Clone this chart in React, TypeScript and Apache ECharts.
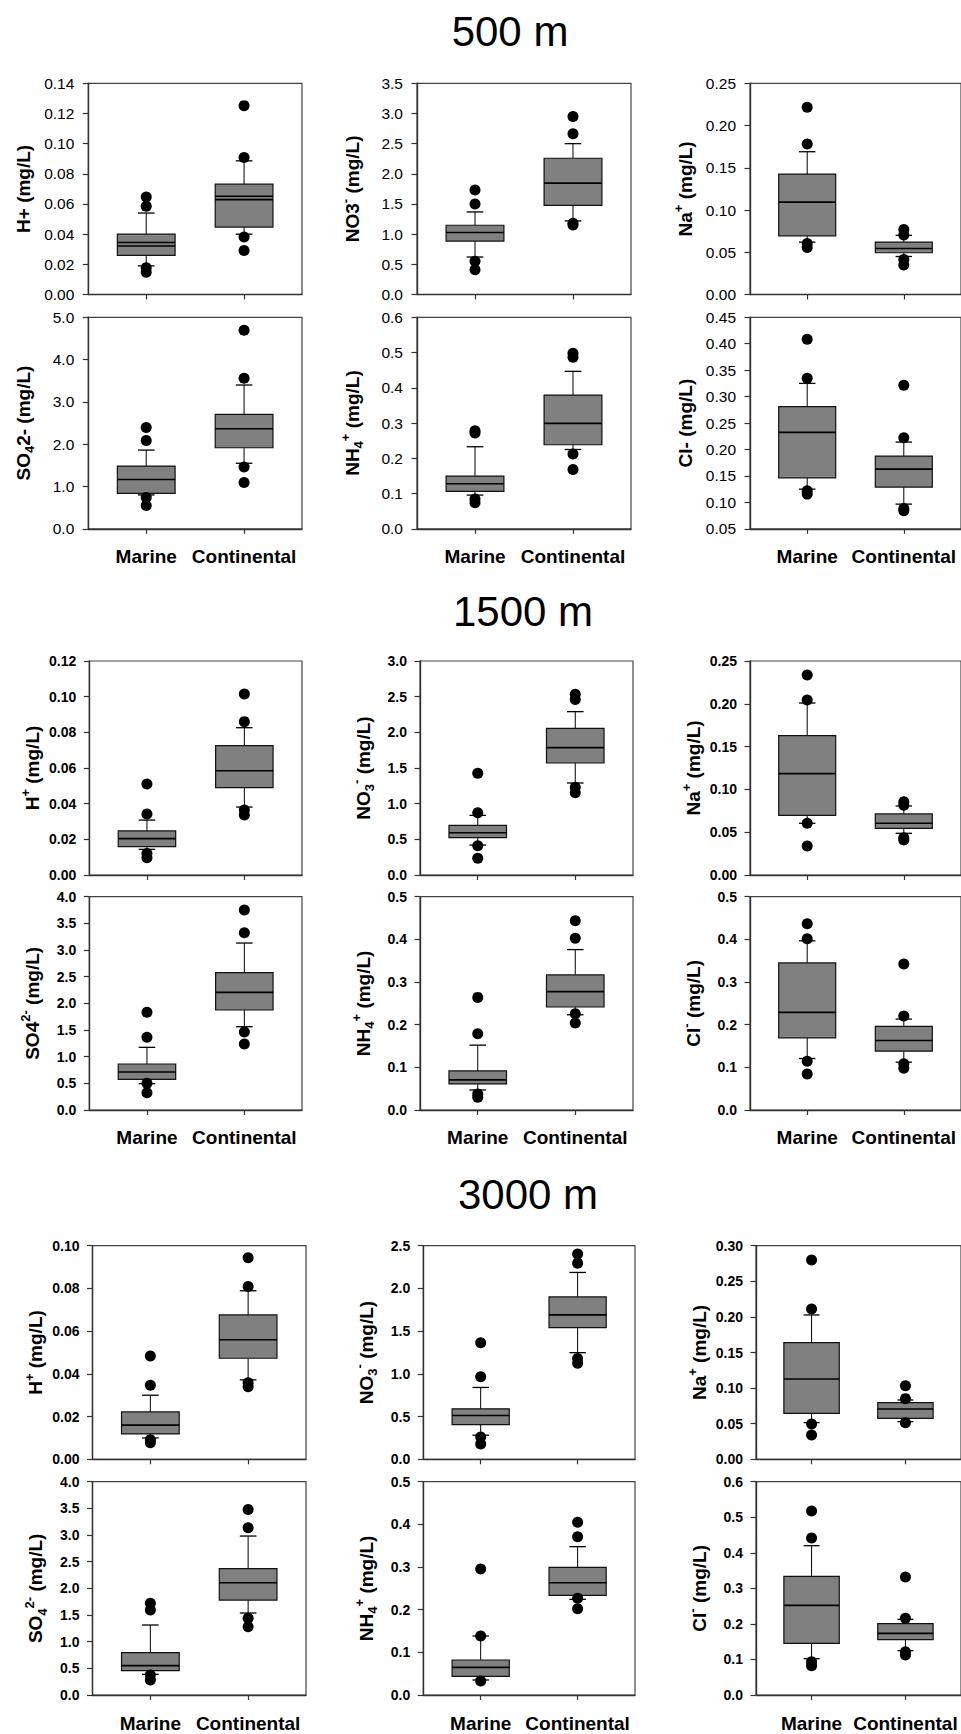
import React, { useEffect, useRef } from 'react';
import * as echarts from 'echarts';

// ---------------- data ----------------
const categories = ['Marine', 'Continental'];
const sectionTitles = ['500 m', '1500 m', '3000 m'];

// box stats per group: [lower whisker, Q1, median, Q3, upper whisker]  (Marine, Continental)
// ---- 500 m ----
const box500H = [[0.019, 0.026, 0.0321, 0.040, 0.054], [0.040, 0.0447, 0.0629, 0.0731, 0.0886]];
const mean500H = [0.0345, 0.0651];
const out500H = [[0.0647, 0.0585, 0.0177, 0.0148], [0.1252, 0.0908, 0.0381, 0.0292]];
const box500NO3 = [[0.621, 0.885, 1.027, 1.148, 1.368], [1.22, 1.478, 1.846, 2.258, 2.5]];
const out500NO3 = [[1.731, 1.5, 0.549, 0.412], [2.95, 2.665, 1.18, 1.15]];
const box500Na = [[0.062, 0.0695, 0.1094, 0.1426, 0.169], [0.045, 0.0494, 0.0545, 0.062, 0.07]];
const out500Na = [[0.2216, 0.1781, 0.0604, 0.0557], [0.077, 0.0703, 0.0415, 0.0348]];
const box500SO4 = [[0.8, 0.836, 1.167, 1.483, 1.861], [1.55, 1.916, 2.366, 2.705, 3.399]];
const out500SO4 = [[2.397, 2.09, 0.741, 0.552], [4.692, 3.557, 1.459, 1.096]];
const box500NH4 = [[0.0956, 0.106, 0.1278, 0.1495, 0.2328], [0.225, 0.2385, 0.299, 0.3795, 0.4467]];
const out500NH4 = [[0.278, 0.272, 0.0842, 0.0738], [0.4978, 0.4864, 0.212, 0.1685]];
const box500Cl = [[0.125, 0.1465, 0.2323, 0.2809, 0.325], [0.0967, 0.1289, 0.1629, 0.1875, 0.214]];
const out500Cl = [[0.4084, 0.3345, 0.122, 0.1156], [0.3213, 0.2222, 0.0885, 0.084]];

// ---- 1500 m ----
const box1500H = [[0.0144, 0.0159, 0.0204, 0.0247, 0.0308], [0.0381, 0.049, 0.0585, 0.0725, 0.0826]];
const out1500H = [[0.051, 0.0342, 0.0121, 0.0097], [0.1015, 0.086, 0.0364, 0.0336]];
const box1500NO3 = [[0.42, 0.523, 0.593, 0.696, 0.836], [1.29, 1.57, 1.785, 2.056, 2.29]];
const out1500NO3 = [[1.425, 0.874, 0.411, 0.234], [2.533, 2.46, 1.229, 1.154]];
const box1500Na = [[0.0604, 0.0697, 0.1184, 0.1628, 0.2009], [0.0487, 0.0545, 0.0604, 0.0713, 0.0806]];
const out1500Na = [[0.2336, 0.2044, 0.0604, 0.0339], [0.0857, 0.0814, 0.0436, 0.0409]];
const box1500SO4 = [[0.494, 0.575, 0.7125, 0.8625, 1.175], [1.5625, 1.875, 2.206, 2.575, 3.131]];
const out1500SO4 = [[1.831, 1.3625, 0.5, 0.325], [3.75, 3.325, 1.4625, 1.2375]];
const box1500NH4 = [[0.047, 0.0611, 0.0705, 0.0917, 0.152], [0.2233, 0.2414, 0.2774, 0.3166, 0.376]];
const out1500NH4 = [[0.264, 0.1787, 0.0376, 0.0298], [0.4436, 0.4028, 0.2257, 0.2038]];
const box1500Cl = [[0.1207, 0.1693, 0.2288, 0.3448, 0.3966], [0.1121, 0.1379, 0.163, 0.1959, 0.2132]];
const out1500Cl = [[0.4365, 0.4013, 0.1144, 0.0846], [0.3425, 0.2202, 0.1082, 0.098]];

// ---- 3000 m ----
const box3000H = [[0.01, 0.0119, 0.016, 0.0222, 0.03], [0.0372, 0.0473, 0.056, 0.0676, 0.0789]];
const out3000H = [[0.0484, 0.0347, 0.0092, 0.0077], [0.0944, 0.0809, 0.0358, 0.034]];
const box3000NO3 = [[0.282, 0.407, 0.5125, 0.591, 0.841], [1.248, 1.541, 1.69, 1.901, 2.187]];
const out3000NO3 = [[1.365, 0.966, 0.26, 0.18], [2.402, 2.296, 1.181, 1.123]];
const box3000Na = [[0.0515, 0.0646, 0.1128, 0.1638, 0.2027], [0.0529, 0.0576, 0.0707, 0.0796, 0.0833]];
const out3000Na = [[0.2799, 0.2111, 0.0496, 0.0342], [0.1034, 0.0852, 0.0515]];
const box3000SO4 = [[0.3875, 0.456, 0.55, 0.794, 1.3125], [1.5375, 1.781, 2.106, 2.369, 2.981]];
const out3000SO4 = [[1.719, 1.594, 0.375, 0.281], [3.48, 3.1375, 1.4375, 1.281]];
const box3000NH4 = [[0.0352, 0.0438, 0.0648, 0.082, 0.1383], [0.2242, 0.2336, 0.2633, 0.2992, 0.3477]];
const out3000NH4 = [[0.2953, 0.1383, 0.0328], [0.4047, 0.3711, 0.2266, 0.2023]];
const box3000Cl = [[0.1022, 0.1453, 0.2522, 0.3338, 0.42], [0.1247, 0.1556, 0.1734, 0.2006, 0.2128]];
const out3000Cl = [[0.5175, 0.4416, 0.0938, 0.0825], [0.3319, 0.2156, 0.1219, 0.1125]];

// y axis scales: [min, max, interval] and label decimals
const yRange500 = [[0, 0.14, 0.02], [0, 3.5, 0.5], [0, 0.25, 0.05], [0, 5, 1], [0, 0.6, 0.1], [0.05, 0.45, 0.05]];
const yDec500 = [2, 1, 2, 1, 1, 2];
const yRange1500 = [[0, 0.12, 0.02], [0, 3, 0.5], [0, 0.25, 0.05], [0, 4, 0.5], [0, 0.5, 0.1], [0, 0.5, 0.1]];
const yDec1500 = [2, 1, 2, 1, 1, 1];
const yRange3000 = [[0, 0.1, 0.02], [0, 2.5, 0.5], [0, 0.3, 0.05], [0, 4, 0.5], [0, 0.5, 0.1], [0, 0.6, 0.1]];
const yDec3000 = [2, 1, 2, 1, 1, 1];

// y axis titles (rich text)
const yNames500 = [
  '{t|H+ (mg/L)}',
  '{t|NO3}{sup|-}{t| (mg/L)}',
  '{t|Na}{sup|+}{t| (mg/L)}',
  '{t|SO}{sub|4}{t|2- (mg/L)}',
  '{t|NH}{sub|4}{sup|+}{t| (mg/L)}',
  '{t|Cl- (mg/L)}',
];
const yNames1500 = [
  '{t|H}{sup|+}{t| (mg/L)}',
  '{t|NO}{sub|3}{sup|-}{t| (mg/L)}',
  '{t|Na}{sup|+}{t| (mg/L)}',
  '{t|SO4}{sup|2-}{t| (mg/L)}',
  '{t|NH}{sub|4}{sup|+}{t| (mg/L)}',
  '{t|Cl}{sup|-}{t| (mg/L)}',
];
const yNames3000 = [
  '{t|H}{sup|+}{t| (mg/L)}',
  '{t|NO}{sub|3}{sup|-}{t| (mg/L)}',
  '{t|Na}{sup|+}{t| (mg/L)}',
  '{t|SO}{sub|4}{sup|2-}{t| (mg/L)}',
  '{t|NH}{sub|4}{sup|+}{t| (mg/L)}',
  '{t|Cl}{sup|-}{t| (mg/L)}',
];

const sections = [
  {
    boxes: [box500H, box500NO3, box500Na, box500SO4, box500NH4, box500Cl],
    outs: [out500H, out500NO3, out500Na, out500SO4, out500NH4, out500Cl],
    means: [mean500H, null, null, null, null, null],
    ranges: yRange500, decs: yDec500, names: yNames500,
  },
  {
    boxes: [box1500H, box1500NO3, box1500Na, box1500SO4, box1500NH4, box1500Cl],
    outs: [out1500H, out1500NO3, out1500Na, out1500SO4, out1500NH4, out1500Cl],
    means: [null, null, null, null, null, null],
    ranges: yRange1500, decs: yDec1500, names: yNames1500,
  },
  {
    boxes: [box3000H, box3000NO3, box3000Na, box3000SO4, box3000NH4, box3000Cl],
    outs: [out3000H, out3000NO3, out3000Na, out3000SO4, out3000NH4, out3000Cl],
    means: [null, null, null, null, null, null],
    ranges: yRange3000, decs: yDec3000, names: yNames3000,
  },
];

// ---------------- layout ----------------
const W = 961;
const H = 1734;
const FONT = "'Liberation Sans', Arial, Helvetica, sans-serif";
const ROWS = [
  [[83.3, 294.5], [317.3, 528.8]],
  [[661, 875], [896.7, 1110]],
  [[1245.7, 1459.3], [1481.7, 1695]],
];
const COLS = [
  [[88.3, 302], [417, 631], [750, 964]],
  [[89.3, 302], [420, 633], [750, 964]],
  [[92.5, 306], [423.3, 635], [756, 970]],
];
const TITLE_POS = [[510, 31], [523, 611], [528, 1194]];
const SEC_STYLE = [
  { tickFont: 15.5, tickWeight: 'normal', tickMargin: 14, nameGap: 52, xMargin: 18 },
  { tickFont: 14, tickWeight: 'bold', tickMargin: 13, nameGap: 44, xMargin: 18 },
  { tickFont: 14, tickWeight: 'bold', tickMargin: 13, nameGap: 44, xMargin: 19 },
];
const X_MIN = -0.592;
const X_MAX = 1.592;
const BOX_W = 0.59;
const CAP_W = 0.17;
const BOX_FILL = '#808080';
const AXIS_COLOR = '#333';

function makeRenderItem(hasMean: boolean) {
  return (params: any, api: any) => {
    const x = api.value(0);
    const lo = api.coord([x, api.value(1)]);
    const q1 = api.coord([x, api.value(2)]);
    const med = api.coord([x, api.value(3)]);
    const q3 = api.coord([x, api.value(4)]);
    const hi = api.coord([x, api.value(5)]);
    const bw = api.size([BOX_W, 0])[0];
    const cw = api.size([CAP_W, 0])[0];
    const cx = q1[0];
    const lineStyle = { stroke: '#000', lineWidth: 1 };
    const children: any[] = [
      { type: 'line', shape: { x1: cx, y1: hi[1], x2: cx, y2: q3[1] }, style: lineStyle },
      { type: 'line', shape: { x1: cx, y1: q1[1], x2: cx, y2: lo[1] }, style: lineStyle },
      { type: 'line', shape: { x1: cx - cw / 2, y1: hi[1], x2: cx + cw / 2, y2: hi[1] }, style: { stroke: '#000', lineWidth: 1.3 } },
      { type: 'line', shape: { x1: cx - cw / 2, y1: lo[1], x2: cx + cw / 2, y2: lo[1] }, style: { stroke: '#000', lineWidth: 1.3 } },
      {
        type: 'rect',
        shape: { x: cx - bw / 2, y: q3[1], width: bw, height: q1[1] - q3[1] },
        style: { fill: BOX_FILL, stroke: '#111', lineWidth: 1.2 },
      },
      { type: 'line', shape: { x1: cx - bw / 2, y1: med[1], x2: cx + bw / 2, y2: med[1] }, style: { stroke: '#000', lineWidth: 1.6 } },
    ];
    if (hasMean) {
      const mn = api.coord([x, api.value(6)]);
      children.push({ type: 'line', shape: { x1: cx - bw / 2, y1: mn[1], x2: cx + bw / 2, y2: mn[1] }, style: { stroke: '#000', lineWidth: 1.6 } });
    }
    return { type: 'group', children };
  };
}

function buildOption() {
  const grid: any[] = [];
  const xAxis: any[] = [];
  const yAxis: any[] = [];
  const series: any[] = [];
  const rich = {
    t: { fontSize: 19, fontWeight: 'bold', fontFamily: FONT, color: '#000', lineHeight: 26 },
    sup: { fontSize: 13, fontWeight: 'bold', fontFamily: FONT, color: '#000', lineHeight: 13, verticalAlign: 'top' },
    sub: { fontSize: 13, fontWeight: 'bold', fontFamily: FONT, color: '#000', lineHeight: 13, verticalAlign: 'bottom' },
  };

  sections.forEach((sec, si) => {
    const st = SEC_STYLE[si];
    for (let pi = 0; pi < 6; pi++) {
      const row = Math.floor(pi / 3);
      const col = pi % 3;
      const [top, bottom] = ROWS[si][row];
      const [left, right] = COLS[si][col];
      const idx = grid.length;
      const [ymin, ymax, yint] = sec.ranges[pi];
      const dec = sec.decs[pi];
      grid.push({
        left, top, width: right - left, height: bottom - top,
        show: true, borderColor: '#444', borderWidth: 1.2, backgroundColor: 'transparent',
      });
      xAxis.push({
        gridIndex: idx, type: 'value', min: X_MIN, max: X_MAX,
        axisLine: { show: true, onZero: false, lineStyle: { color: AXIS_COLOR, width: 1.4 } },
        axisTick: { show: true, customValues: [0, 1], length: 5, lineStyle: { color: AXIS_COLOR, width: 1.2 } },
        axisLabel: {
          show: row === 1, customValues: [0, 1], margin: st.xMargin,
          formatter: (v: number) => categories[Math.round(v)] ?? '',
          fontSize: 19, fontWeight: 'bold', fontFamily: FONT, color: '#000',
        },
        splitLine: { show: false },
      });
      yAxis.push({
        gridIndex: idx, type: 'value', min: ymin, max: ymax, interval: yint,
        axisLine: { show: true, onZero: false, lineStyle: { color: AXIS_COLOR, width: 1.4 } },
        axisTick: { show: true, length: 5.5, lineStyle: { color: AXIS_COLOR, width: 1.2 } },
        axisLabel: {
          formatter: (v: number) => v.toFixed(dec), margin: st.tickMargin,
          fontSize: st.tickFont, fontWeight: st.tickWeight, fontFamily: FONT, color: '#000',
        },
        splitLine: { show: false },
        name: sec.names[pi], nameLocation: 'middle', nameGap: st.nameGap,
        nameTextStyle: { fontSize: 19, fontWeight: 'bold', fontFamily: FONT, color: '#000', rich },
      });
      const mean = sec.means[pi];
      series.push({
        type: 'custom', xAxisIndex: idx, yAxisIndex: idx, clip: false, silent: true, z: 2,
        renderItem: makeRenderItem(!!mean),
        data: sec.boxes[pi].map((b, i) => (mean ? [i, ...b, mean[i]] : [i, ...b])),
      });
      series.push({
        type: 'scatter', xAxisIndex: idx, yAxisIndex: idx, silent: true, z: 3,
        symbol: 'circle', symbolSize: 11, itemStyle: { color: '#000', opacity: 1 },
        data: sec.outs[pi].flatMap((arr, i) => arr.map((v) => [i, v])),
      });
    }
  });

  const graphic = sectionTitles.map((t, i) => ({
    type: 'text', x: TITLE_POS[i][0], y: TITLE_POS[i][1],
    style: {
      text: t, fontSize: 42, fontFamily: FONT, fill: '#000',
      align: 'center', verticalAlign: 'middle',
    },
  }));

  return {
    animation: false,
    backgroundColor: '#fff',
    grid, xAxis, yAxis, series, graphic,
  };
}

export default function App() {
  const ref = useRef<HTMLDivElement>(null);
  useEffect(() => {
    document.body.style.margin = '0';
    document.body.style.overflow = 'hidden';
    const chart = echarts.init(ref.current as HTMLDivElement, null, { renderer: 'svg', width: W, height: H });
    chart.setOption(buildOption() as any);
    return () => chart.dispose();
  }, []);
  return <div ref={ref} style={{ position: 'absolute', left: 0, top: 0, width: W, height: H, background: '#fff' }} />;
}
